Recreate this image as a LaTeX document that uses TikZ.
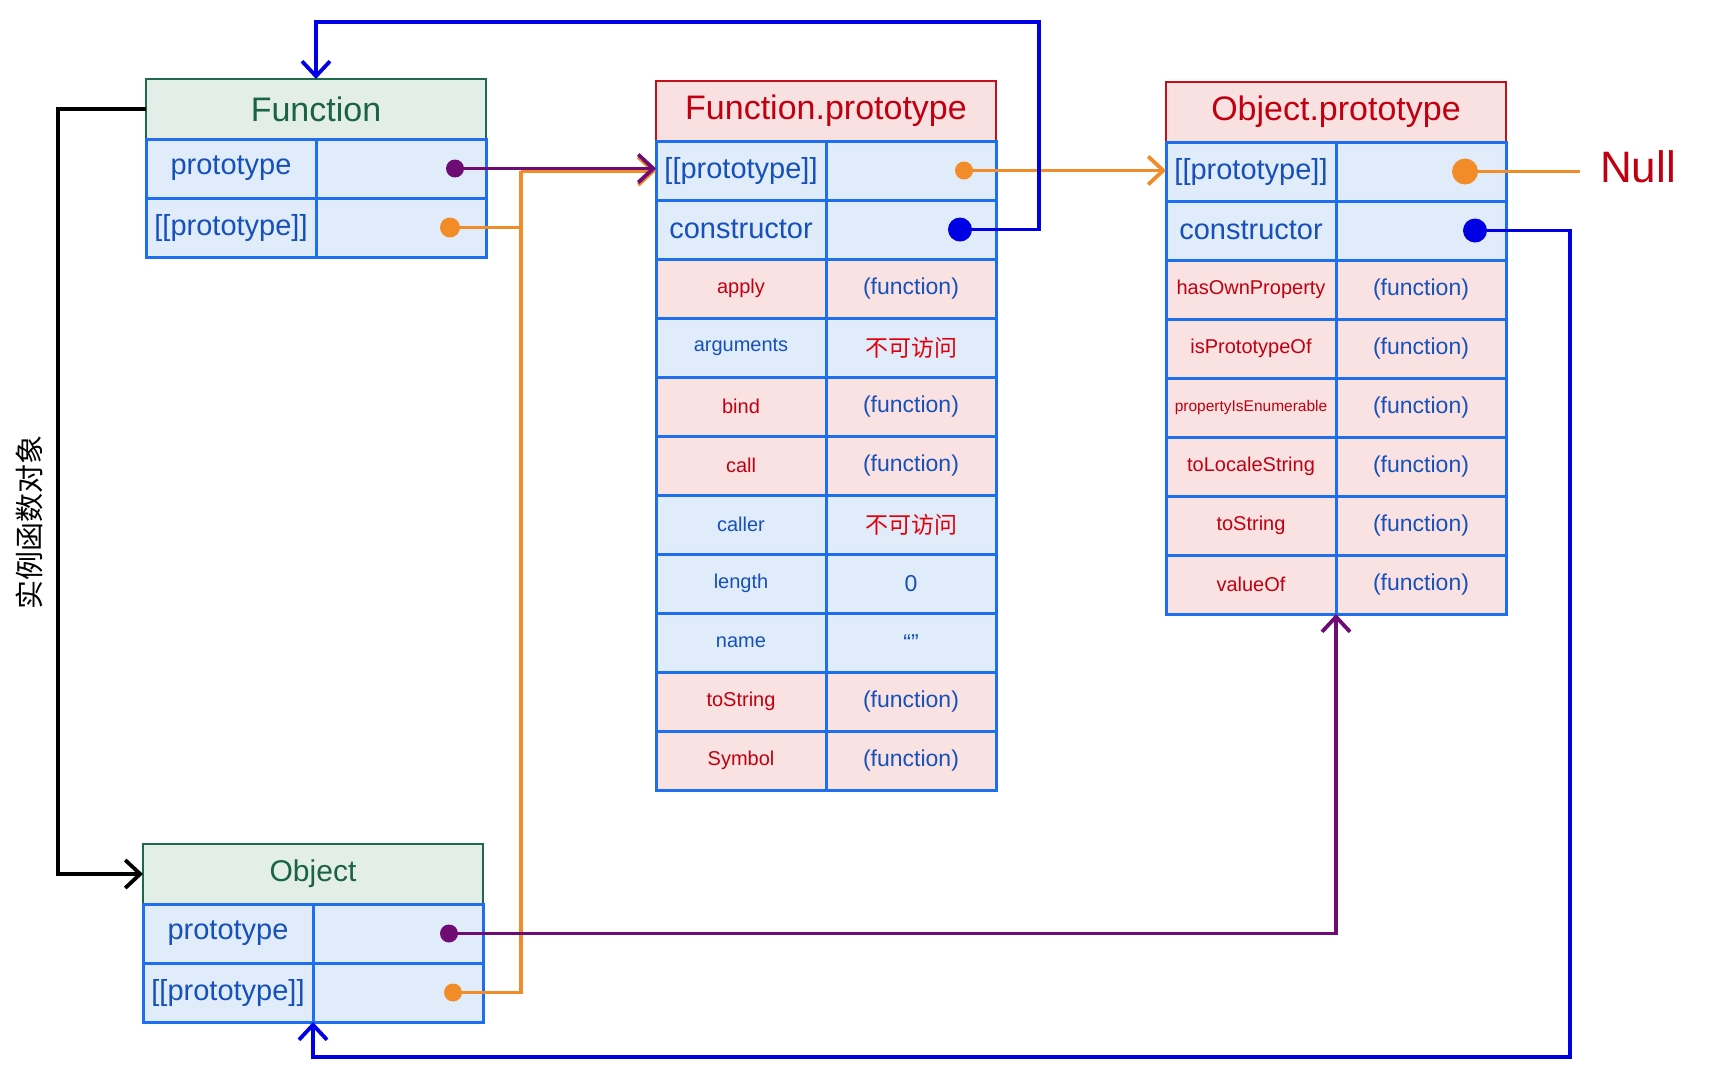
\documentclass[tikz,border=0pt]{standalone}
\usepackage{fontspec}
\setmainfont{Liberation Sans}
\newfontfamily\cjk{Noto Sans CJK SC}
\usetikzlibrary{positioning}
\usetikzlibrary{arrows.meta}
\definecolor{grnfill}{RGB}{227, 238, 233}
\definecolor{grnline}{RGB}{30, 105, 72}
\definecolor{grntxt}{RGB}{26, 100, 66}
\definecolor{redfill}{RGB}{250, 225, 225}
\definecolor{redline}{RGB}{196, 16, 26}
\definecolor{redtxt}{RGB}{192, 0, 16}
\definecolor{bfill}{RGB}{225, 236, 251}
\definecolor{btxt}{RGB}{22, 80, 185}
\definecolor{pfill}{RGB}{250, 226, 227}
\definecolor{ptxt}{RGB}{192, 0, 16}
\definecolor{bline}{RGB}{30, 110, 240}
\definecolor{natxt}{RGB}{225, 0, 10}
\definecolor{lnblue}{RGB}{0, 0, 228}
\definecolor{lnpurple}{RGB}{110, 12, 116}
\definecolor{lnorange}{RGB}{242, 140, 40}
\newcommand{\noacc}{{\cjk\color{natxt}不可访问}}

\begin{document}
\begin{tikzpicture}[x=1pt, y=-1pt,
  hdr/.style={rectangle, draw=#1line, fill=#1fill, text=#1txt,
    line width=2.5pt, minimum width=340pt, minimum height=60pt,
    inner sep=0pt, outer sep=0pt, anchor=north west,
    font=\fontsize{34}{40}\selectfont},
  kcell/.style={rectangle, draw=bline, fill=#1fill, text=#1txt,
    line width=3pt, minimum width=170pt, minimum height=59pt,
    inner sep=0pt, outer sep=0pt, font=\fontsize{20}{24}\selectfont},
  vcell/.style={kcell=#1, text=btxt, font=\fontsize{23}{28}\selectfont},
  big/.style={font=\fontsize{29}{34}\selectfont},
  dot/.style={circle, fill=#1, inner sep=0pt, minimum size=18pt},
  lnk/.style={line width=3.8pt, draw=#1},
  tip/.style={-{Straight Barb[length=15pt, width=28pt]}}
]
  \useasboundingbox (0,0) rectangle (1712,1080);

  % Function
  \node[hdr=grn] (fn) at (146,79) {Function};
  \node[kcell=b, big, anchor=north west] (fnPk) at (fn.south west) {prototype};
  \node[vcell=b, right=0pt of fnPk] (fnPv) {};
  \node[kcell=b, big, anchor=north west] (fnIk) at (fnPk.south west) {[[prototype]]};
  \node[vcell=b, right=0pt of fnIk] (fnIv) {};

  % Function.prototype
  \node[hdr=red] (fp) at (656,81) {Function.prototype};
  \node[kcell=b, big, anchor=north west] (fpIk) at (fp.south west) {[[prototype]]};
  \node[vcell=b, right=0pt of fpIk] (fpIv) {};
  \node[kcell=b, big, anchor=north west] (fpCk) at (fpIk.south west) {constructor};
  \node[vcell=b, right=0pt of fpCk] (fpCv) {};
  \foreach \k/\v/\c [count=\i] in {apply/(function)/p, arguments/\noacc/b,
      bind/(function)/p, call/(function)/p, caller/\noacc/b, length/0/b,
      name/“”/b, toString/(function)/p, Symbol/(function)/p} {
    \node[kcell=\c, anchor=north west] (fpk\i)
      at ([yshift={-(\i-1)*59pt}]fpCk.south west) {\k};
    \node[vcell=\c, right=0pt of fpk\i] (fpv\i) {\v};
  }

  % Object.prototype
  \node[hdr=red] (op) at (1166,82) {Object.prototype};
  \node[kcell=b, big, anchor=north west] (opIk) at (op.south west) {[[prototype]]};
  \node[vcell=b, right=0pt of opIk] (opIv) {};
  \node[kcell=b, big, anchor=north west] (opCk) at (opIk.south west) {constructor};
  \node[vcell=b, right=0pt of opCk] (opCv) {};
  \foreach \k [count=\i] in {hasOwnProperty, isPrototypeOf,
      {\fontsize{15.5}{18}\selectfont propertyIsEnumerable},
      toLocaleString, toString, valueOf} {
    \node[kcell=p, anchor=north west] (opk\i)
      at ([yshift={-(\i-1)*59pt}]opCk.south west) {\k};
    \node[vcell=p, right=0pt of opk\i] (opv\i) {(function)};
  }
  \node[text=redtxt, font=\fontsize{44}{50}\selectfont, inner sep=0pt,
    inner xsep=20pt] (nul) at (1638,167) {Null};

  % Object
  \node[hdr=grn, font=\fontsize{30}{36}\selectfont] (ob) at (143,844) {Object};
  \node[kcell=b, big, anchor=north west] (obPk) at (ob.south west) {prototype};
  \node[vcell=b, right=0pt of obPk] (obPv) {};
  \node[kcell=b, big, anchor=north west] (obIk) at (obPk.south west) {[[prototype]]};
  \node[vcell=b, right=0pt of obIk] (obIv) {};

  \node[rotate=90, font=\cjk\fontsize{29}{34}\selectfont] (lbl) at (29,522) {实例函数对象};

  % dots
  \node[dot=lnpurple] (fnPd) at ([xshift=-31pt]fnPv.east) {};
  \node[dot=lnorange, minimum size=20pt] (fnId) at ([xshift=-36pt]fnIv.east) {};
  \node[dot=lnorange] (fpId) at ([xshift=-32pt]fpIv.east) {};
  \node[dot=lnblue, minimum size=24pt] (fpCd) at ([xshift=-36pt]fpCv.east) {};
  \node[dot=lnorange, minimum size=26pt] (opId) at ([xshift=-41pt]opIv.east) {};
  \node[dot=lnblue, minimum size=24pt] (opCd) at ([xshift=-31pt]opCv.east) {};
  \node[dot=lnpurple] (obPd) at ([xshift=-34pt]obPv.east) {};
  \node[dot=lnorange] (obId) at ([xshift=-30pt]obIv.east) {};

  % links
  \coordinate (jn) at (521,171);
  \coordinate (topR) at (1039,22);
  \coordinate (botR) at (1570,1057);
  \draw[lnk=black, tip] (fn.west) -- ++(-88,0) |- (ob.west);
  \draw[lnk=lnorange] (fnId) -| (jn);
  \draw[lnk=lnorange] (obId) -| (jn);
  \draw[lnk=lnorange, tip] (jn) -- (jn -| fpIk.west);
  \draw[lnk=lnpurple, tip] (fnPd) -- (fnPd -| fpIk.west);
  \draw[lnk=lnorange, tip] (fpId) -- (fpId -| opIk.west);
  \draw[lnk=lnorange] (opId) -- (opId -| nul.west);
  \draw[lnk=lnblue, tip] (fpCd) -| (topR) -| (fn.north);
  \draw[lnk=lnblue, tip] (opCd) -| (botR) -| (obIk.south east);
  \draw[lnk=lnpurple, tip] (obPd) -| (opk6.south east);
\end{tikzpicture}
\end{document}
